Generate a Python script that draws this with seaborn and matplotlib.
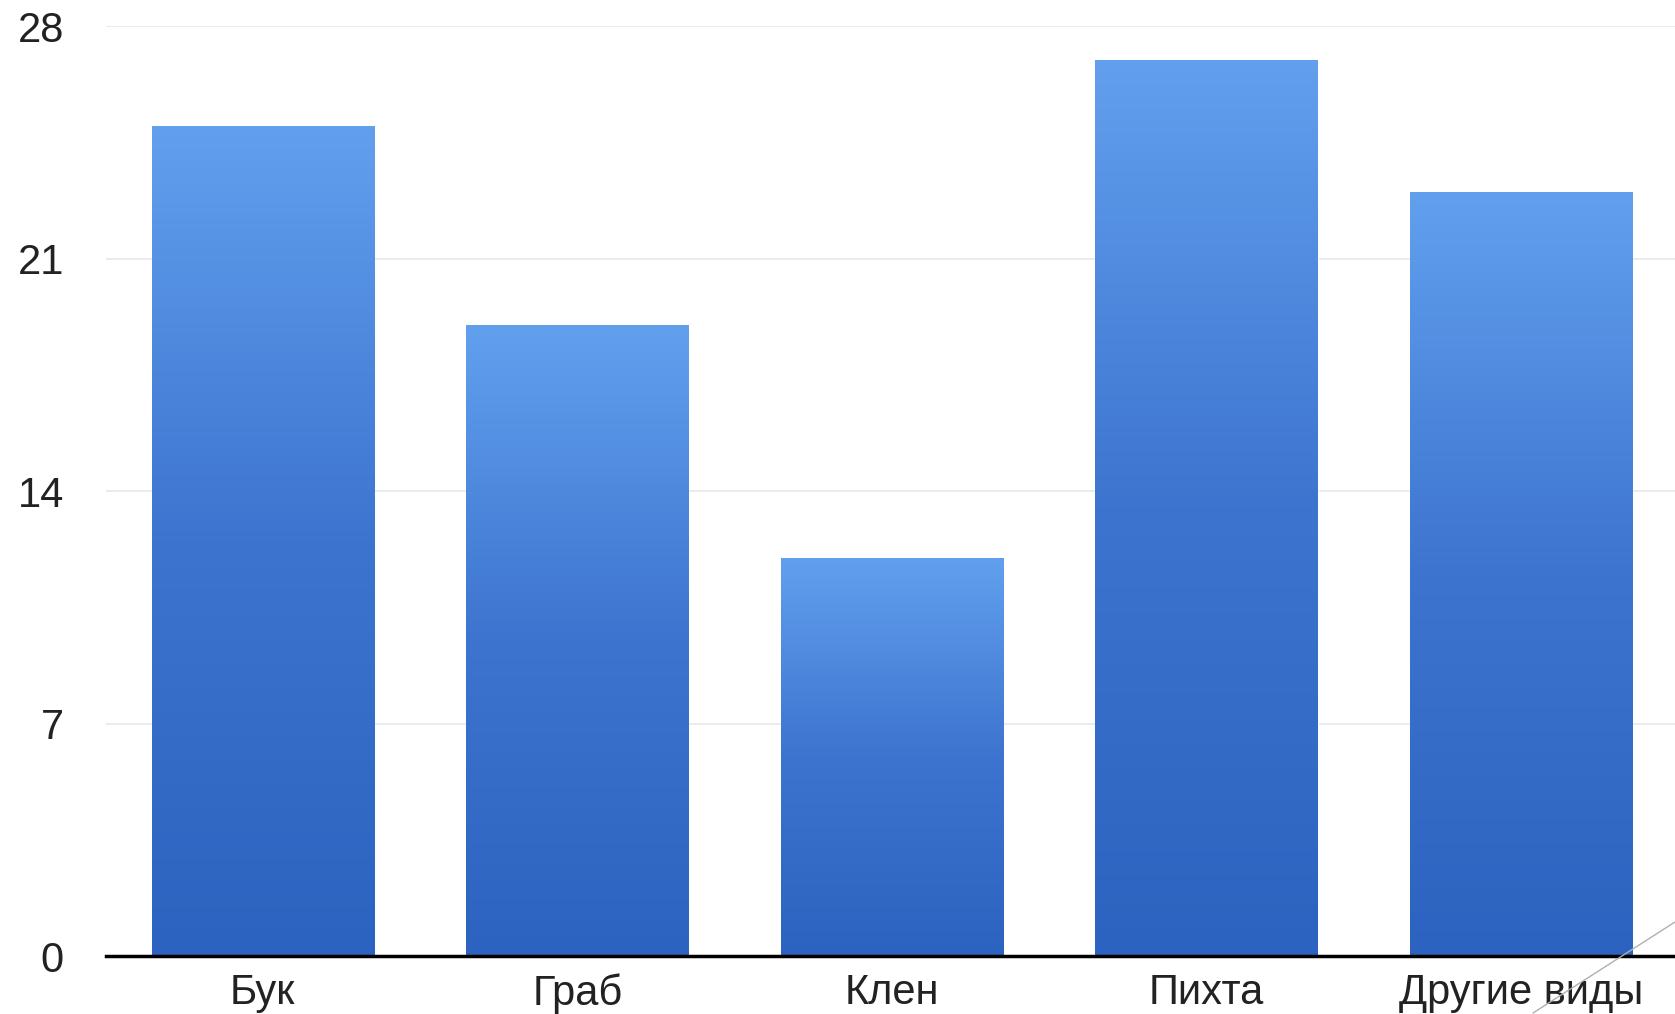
import seaborn as sns
import pandas as pd
import numpy as np
import matplotlib.pyplot as plt
from matplotlib.colors import LinearSegmentedColormap
from matplotlib.lines import Line2D

species = ['Бук', 'Граб', 'Клен', 'Пихта', 'Другие виды']
values = [25, 19, 12, 27, 23]
yticks = [0, 7, 14, 21, 28]

sns.set_theme(style='white')
plt.rcParams['font.family'] = ['Liberation Sans', 'DejaVu Sans']

df = pd.DataFrame({'species': species, 'value': values})

fig = plt.figure(figsize=(16.75, 10.14), dpi=100)
ax = fig.add_axes([0.063, 0.057, 0.937, 0.917])

sns.barplot(data=df, x='species', y='value', color='#4a82d8', width=0.707,
            saturation=1, ax=ax, zorder=2)

# vertical gradient on each bar, light on top, darker at the base
cmap = LinearSegmentedColormap.from_list('bar', ['#2c63c0', '#3d74cf', '#62a0ee'])
grad = np.linspace(0, 1, 256).reshape(-1, 1)
for p in ax.patches:
    x0, y0 = p.get_x(), p.get_y()
    w, h = p.get_width(), p.get_height()
    im = ax.imshow(grad, cmap=cmap, origin='lower', aspect='auto',
                   extent=[x0, x0 + w, y0, y0 + h], zorder=3)
    im.set_clip_path(p)

ax.set_xlim(-0.5, 4.49)
ax.set_ylim(0, 28)
ax.set_yticks(yticks)
ax.set_yticklabels([str(t) for t in yticks])
ax.grid(axis='y', color='#e4e8ee', linewidth=1.2, zorder=0)
ax.set_axisbelow(True)

for s in ['top', 'right', 'left']:
    ax.spines[s].set_visible(False)
ax.spines['bottom'].set_color('black')
ax.spines['bottom'].set_linewidth(2.5)
ax.spines['bottom'].set_zorder(5)

ax.tick_params(axis='y', length=0, pad=30, labelsize=30, labelcolor='#222222')
ax.tick_params(axis='x', length=0, pad=12, labelsize=30, labelcolor='#222222')
ax.set_xlabel('')
ax.set_ylabel('')

# thin slide decoration in the lower right corner
fig.add_artist(Line2D([1533 / 1675, 1.0], [1 - 1013 / 1014, 1 - 922 / 1014],
                      transform=fig.transFigure, color='#b0b0b0', linewidth=1))

fig.savefig('out.png', dpi=100)
